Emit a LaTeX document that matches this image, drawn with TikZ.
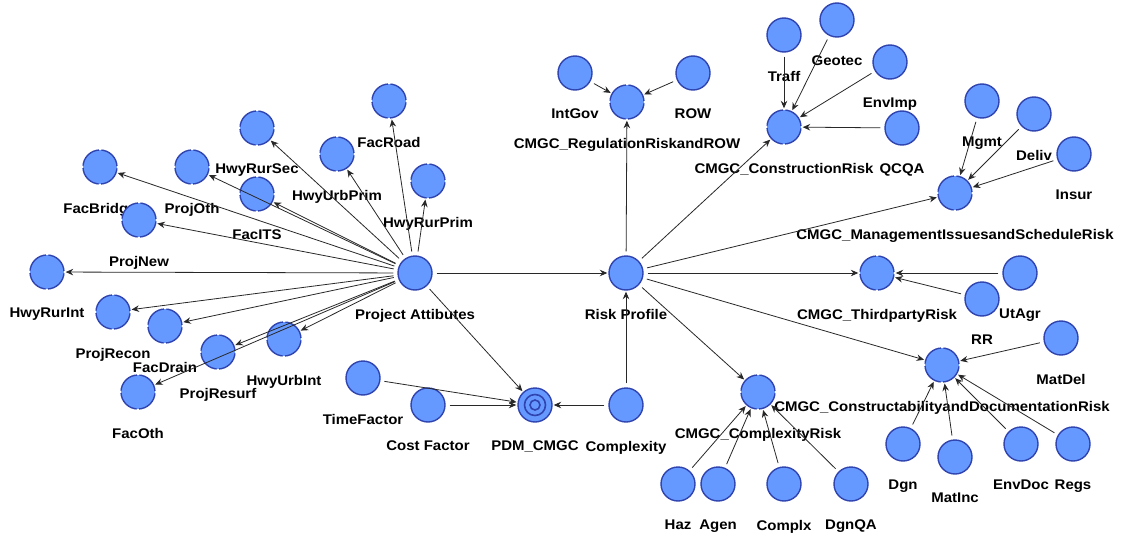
\documentclass[tikz,border=0pt]{standalone}
\usepackage{fontspec}
\setmainfont{Liberation Sans}
\newfontfamily\lblfont[FakeStretch=1.07]{Liberation Sans}
\usetikzlibrary{arrows.meta}
\definecolor{nfill}{RGB}{102,153,255}
\definecolor{ndraw}{RGB}{48,68,176}
\definecolor{edgec}{RGB}{40,40,40}
\begin{document}
\begin{tikzpicture}[x=1pt,y=-1pt,
  label distance=18pt,
  every label/.style={font=\lblfont\fontsize{14}{16}\selectfont\bfseries, inner sep=0pt, text=black},
  bn/.style={circle, minimum size=34pt, inner sep=0pt, fill=nfill, draw=ndraw, line width=1.4pt},
  cn/.style={bn, dash pattern=on 24.2pt off 2.5pt, dash phase=-1pt},
  arr/.style={draw=edgec, line width=0.8pt, -{Stealth[length=7.5pt,width=6.5pt,inset=2.5pt]}, shorten <=4pt, shorten >=1pt}
]
\useasboundingbox (0,0) rectangle (1122,535);
\fill[white] (0,0) rectangle (1122,535);
% central nodes
\node[bn, label=below:Project Attibutes] (PA) at (415,273) {};
\node[bn, label=below:Risk Profile] (RP) at (626,273) {};
\node[bn, label=below:PDM\_CMGC] (PDM) at (535,405) {};
\node[bn, label=below:Complexity] (CX) at (626,405) {};
\node[bn, label=below:Cost Factor] (CF) at (428,405) {};
\node[bn, label=below:TimeFactor] (TF) at (363,378) {};
\draw[ndraw, line width=1.6pt] (PDM.center) circle[radius=10.5pt];
\draw[ndraw, line width=1.6pt] (PDM.center) circle[radius=5pt];
% project attribute children
\node[cn, label=below:HwyRurSec] (HRS) at (257,128) {};
\node[cn, label=below:FacBridge] (FB) at (100,167) {};
\node[cn, label=below:ProjOth] (PO) at (192,167) {};
\node[cn, label=below:HwyUrbPrim] (HUP) at (337,154) {};
\node[cn, label=below:FacITS] (FI) at (257,194) {};
\node[cn, label=below:ProjNew] (PN) at (139,220) {};
\node[cn, label=below:FacRoad] (FR) at (389,101) {};
\node[cn, label=below:HwyRurPrim] (HRP) at (428,181) {};
\node[cn, label=below:HwyRurInt] (HRI) at (47,272) {};
\node[cn, label=below:ProjRecon] (PR) at (113,312) {};
\node[cn, label=below:FacDrain] (FD) at (165,326) {};
\node[cn, label=below:ProjResurf] (PRS) at (218,352) {};
\node[cn, label=below:HwyUrbInt] (HUI) at (284,339) {};
\node[cn, label=below:FacOth] (FO) at (138,392) {};
% risk nodes
\node[cn, label=below:CMGC\_RegulationRiskandROW] (REG) at (627,102) {};
\node[bn, label=below:IntGov] (IG) at (575,73) {};
\node[bn, label=below:ROW] (ROW) at (693,73) {};
\node[cn, label=below:CMGC\_ConstructionRisk] (CON) at (784,127) {};
\node[bn, label=below:Traff] (TR) at (784,35) {};
\node[bn, label=below:Geotec] (GE) at (837,20) {};
\node[bn, label=below:EnvImp] (EI) at (890,62) {};
\node[bn, label=below:QCQA] (QC) at (902,128) {};
\node[cn, label=below:CMGC\_ManagementIssuesandScheduleRisk] (MIS) at (955,193) {};
\node[bn, label=below:Mgmt] (MG) at (982,101) {};
\node[bn, label=below:Deliv] (DE) at (1034,114) {};
\node[bn, label=below:Insur] (IN) at (1074,154) {};
\node[cn, label=below:CMGC\_ThirdpartyRisk] (TPR) at (877,273) {};
\node[bn, label=below:UtAgr] (UA) at (1020,273) {};
\node[bn, label=below:RR] (RR) at (982,299) {};
\node[cn, label=below:CMGC\_ConstructabilityandDocumentationRisk] (CDR) at (942,365) {};
\node[bn, label=below:MatDel] (MD) at (1061,338) {};
\node[bn, label=below:Dgn] (DG) at (903,444) {};
\node[bn, label=below:MatInc] (MI) at (955,457) {};
\node[bn, label=below:EnvDoc] (ED) at (1021,444) {};
\node[bn, label=below:Regs] (RG) at (1073,444) {};
\node[cn, label=below:CMGC\_ComplexityRisk] (CR) at (758,392) {};
\node[bn, label=below:Haz] (HZ) at (678,484) {};
\node[bn, label=below:Agen] (AG) at (718,484) {};
\node[bn, label=below:Complx] (CP) at (784,484) {};
\node[bn, label=below:DgnQA] (DQ) at (851,484) {};
% edges
\foreach \t in {HRS,FB,PO,HUP,FI,PN,FR,HRP,HRI,PR,FD,PRS,HUI,FO,RP,PDM}
  \draw[arr] (PA) -- (\t);
\foreach \s in {CF,TF,CX} \draw[arr] (\s) -- (PDM);
\draw[arr] (CX) -- (RP);
\foreach \t in {REG,CON,MIS,TPR,CDR,CR} \draw[arr] (RP) -- (\t);
\foreach \s in {IG,ROW} \draw[arr] (\s) -- (REG);
\foreach \s in {TR,GE,EI,QC} \draw[arr] (\s) -- (CON);
\foreach \s in {MG,DE,IN} \draw[arr] (\s) -- (MIS);
\foreach \s in {UA,RR} \draw[arr] (\s) -- (TPR);
\foreach \s in {MD,DG,MI,ED,RG} \draw[arr] (\s) -- (CDR);
\foreach \s in {HZ,AG,CP,DQ} \draw[arr] (\s) -- (CR);
\end{tikzpicture}
\end{document}
